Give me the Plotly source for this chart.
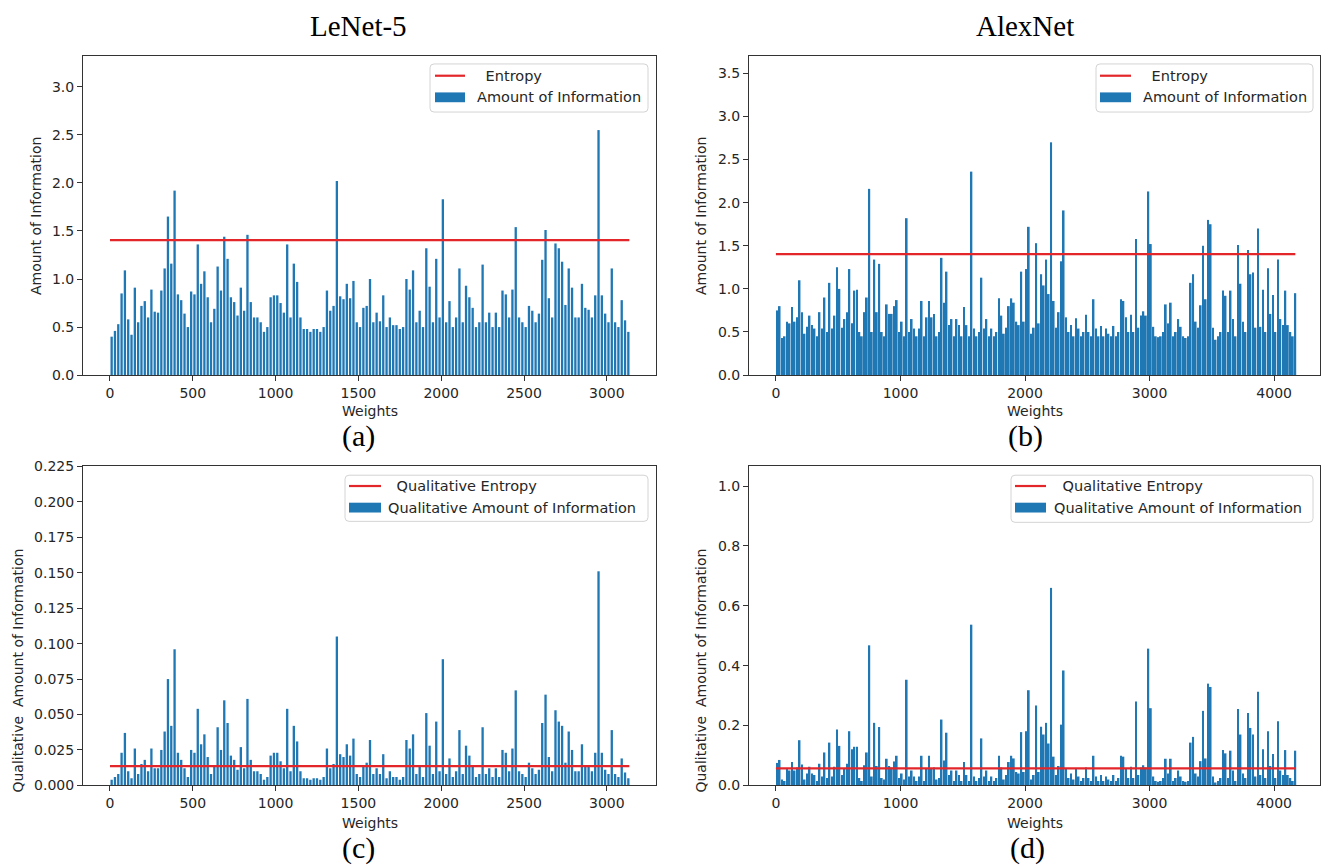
import plotly.graph_objects as go

W, H = 1325, 867

# ---------------- data (one bar per 20 weights) ----------------
BIN = 20
LENET_N = 3136
ALEX_N = 4170
LENET_ENTROPY = 1.404
ALEX_ENTROPY = 1.404
LENET_Q_ENTROPY = 0.0136
ALEX_Q_ENTROPY = 0.057

lenet_info = [
    0.40, 0.46, 0.53, 0.85, 1.09, 0.58, 0.42, 0.91, 0.55, 0.72,
    0.77, 0.60, 0.89, 0.66, 0.65, 0.88, 1.11, 1.65, 1.16, 1.92,
    0.84, 0.78, 0.64, 0.50, 0.87, 0.84, 1.36, 0.95, 1.08, 0.81,
    0.55, 0.69, 1.13, 0.88, 1.44, 1.21, 0.81, 0.76, 0.62, 0.91,
    0.67, 1.46, 0.76, 0.60, 0.60, 0.55, 0.45, 0.50, 0.81, 0.83,
    0.83, 0.75, 0.65, 1.36, 0.60, 1.16, 0.97, 0.60, 0.48, 0.48,
    0.45, 0.48, 0.48, 0.45, 0.50, 0.88, 0.67, 0.72, 2.02, 0.82,
    0.79, 0.95, 0.80, 0.98, 0.55, 0.50, 0.70, 0.72, 1.00, 0.55,
    0.65, 0.56, 0.83, 0.50, 0.60, 0.52, 0.52, 0.48, 0.50, 1.00,
    0.89, 1.09, 0.55, 0.67, 0.50, 1.32, 0.92, 0.55, 1.21, 0.60,
    1.83, 0.55, 0.77, 0.50, 0.60, 1.11, 0.55, 0.93, 0.81, 0.70,
    0.50, 0.55, 1.15, 0.55, 0.65, 0.50, 0.65, 0.50, 0.88, 0.84,
    0.60, 0.89, 1.54, 0.60, 0.55, 0.50, 0.72, 0.67, 0.55, 0.64,
    1.20, 1.51, 0.80, 0.60, 1.37, 1.32, 1.18, 0.73, 1.11, 0.91,
    0.60, 0.60, 0.95, 0.70, 0.68, 0.60, 0.83, 2.55, 0.83, 0.64,
    0.55, 1.11, 0.55, 0.50, 0.78, 0.57, 0.45,
]

lenet_qual = [
    0.004, 0.006, 0.008, 0.023, 0.037, 0.010, 0.005, 0.026, 0.008, 0.015,
    0.018, 0.010, 0.026, 0.012, 0.012, 0.025, 0.038, 0.075, 0.042, 0.096,
    0.023, 0.018, 0.012, 0.006, 0.025, 0.023, 0.054, 0.029, 0.036, 0.020,
    0.008, 0.014, 0.041, 0.025, 0.060, 0.044, 0.021, 0.018, 0.011, 0.027,
    0.012, 0.061, 0.018, 0.010, 0.010, 0.008, 0.004, 0.006, 0.021, 0.023,
    0.023, 0.017, 0.012, 0.054, 0.010, 0.042, 0.031, 0.010, 0.005, 0.005,
    0.004, 0.005, 0.005, 0.004, 0.006, 0.026, 0.012, 0.015, 0.105, 0.022,
    0.020, 0.029, 0.021, 0.033, 0.008, 0.006, 0.014, 0.016, 0.032, 0.008,
    0.012, 0.008, 0.022, 0.005, 0.010, 0.006, 0.006, 0.004, 0.006, 0.032,
    0.026, 0.036, 0.008, 0.013, 0.006, 0.051, 0.028, 0.008, 0.045, 0.010,
    0.089, 0.008, 0.019, 0.006, 0.010, 0.039, 0.008, 0.028, 0.021, 0.014,
    0.006, 0.008, 0.041, 0.008, 0.012, 0.006, 0.012, 0.006, 0.025, 0.023,
    0.010, 0.026, 0.067, 0.010, 0.008, 0.006, 0.016, 0.012, 0.008, 0.011,
    0.044, 0.064, 0.020, 0.010, 0.053, 0.045, 0.042, 0.016, 0.038, 0.025,
    0.010, 0.010, 0.029, 0.014, 0.013, 0.010, 0.023, 0.151, 0.023, 0.011,
    0.008, 0.039, 0.008, 0.006, 0.019, 0.009, 0.005,
]

alex_info = [
    0.75, 0.80, 0.43, 0.45, 0.62, 0.60, 0.79, 0.62, 0.67, 1.10,
    0.73, 0.48, 0.56, 0.69, 0.58, 0.54, 0.45, 0.73, 0.54, 0.90,
    0.50, 1.07, 0.54, 0.69, 1.25, 1.00, 0.55, 0.65, 0.73, 1.23,
    0.60, 0.98, 0.99, 0.50, 0.45, 0.73, 0.90, 2.16, 0.50, 1.34,
    0.73, 1.29, 0.50, 0.45, 0.82, 0.71, 0.71, 0.80, 0.87, 0.50,
    0.62, 0.45, 1.82, 0.50, 0.65, 0.54, 0.45, 0.54, 0.86, 0.45,
    0.67, 0.86, 0.67, 0.71, 0.45, 0.50, 1.36, 0.84, 1.20, 0.58,
    0.65, 0.45, 0.65, 0.58, 0.45, 0.79, 0.58, 0.45, 2.36, 0.54,
    0.45, 0.50, 1.13, 0.54, 0.65, 0.45, 0.54, 0.45, 0.50, 0.89,
    0.69, 0.48, 0.55, 0.80, 0.89, 0.84, 0.62, 0.58, 1.20, 0.62,
    1.23, 1.72, 0.48, 0.55, 1.53, 0.60, 1.17, 1.04, 1.34, 0.94,
    2.70, 0.86, 0.55, 0.73, 1.32, 1.91, 0.67, 0.50, 0.58, 0.45,
    0.66, 0.54, 0.45, 0.50, 0.70, 0.50, 0.45, 0.88, 0.54, 0.45,
    0.57, 0.45, 0.54, 0.48, 0.45, 0.57, 0.45, 0.50, 0.88, 0.86,
    0.67, 0.50, 0.70, 0.50, 1.58, 0.55, 0.69, 0.74, 0.69, 2.13,
    1.52, 0.56, 0.45, 0.44, 0.45, 0.50, 0.82, 0.60, 0.84, 0.45,
    0.50, 0.65, 0.56, 0.45, 0.43, 0.45, 1.07, 1.17, 0.62, 0.55,
    0.81, 1.50, 0.88, 1.80, 1.75, 0.55, 0.41, 0.45, 0.50, 0.98,
    0.92, 0.50, 0.98, 0.65, 0.45, 1.51, 1.06, 0.62, 0.50, 1.45,
    1.17, 1.19, 0.55, 1.70, 0.56, 0.99, 0.50, 1.24, 0.71, 0.93,
    0.50, 1.34, 0.65, 0.58, 0.98, 0.58, 0.50, 0.45, 0.95,
]

alex_qual = [
    0.075, 0.085, 0.020, 0.015, 0.055, 0.050, 0.078, 0.050, 0.060, 0.151,
    0.070, 0.020, 0.040, 0.062, 0.040, 0.035, 0.015, 0.072, 0.030, 0.110,
    0.025, 0.143, 0.030, 0.062, 0.187, 0.132, 0.035, 0.055, 0.072, 0.181,
    0.121, 0.129, 0.129, 0.025, 0.015, 0.067, 0.110, 0.468, 0.030, 0.209,
    0.065, 0.195, 0.025, 0.020, 0.089, 0.065, 0.060, 0.080, 0.099, 0.025,
    0.040, 0.020, 0.353, 0.030, 0.050, 0.030, 0.015, 0.030, 0.099, 0.015,
    0.055, 0.099, 0.055, 0.060, 0.020, 0.025, 0.220, 0.083, 0.176, 0.035,
    0.050, 0.015, 0.050, 0.035, 0.015, 0.078, 0.035, 0.015, 0.537, 0.030,
    0.015, 0.025, 0.157, 0.030, 0.050, 0.015, 0.030, 0.015, 0.025, 0.099,
    0.060, 0.020, 0.035, 0.078, 0.099, 0.090, 0.045, 0.040, 0.178, 0.045,
    0.181, 0.318, 0.020, 0.035, 0.267, 0.045, 0.196, 0.170, 0.209, 0.140,
    0.660, 0.096, 0.035, 0.065, 0.203, 0.384, 0.055, 0.025, 0.040, 0.020,
    0.055, 0.030, 0.015, 0.025, 0.060, 0.025, 0.015, 0.099, 0.030, 0.015,
    0.035, 0.015, 0.030, 0.020, 0.015, 0.035, 0.015, 0.025, 0.099, 0.096,
    0.055, 0.025, 0.062, 0.025, 0.280, 0.035, 0.060, 0.067, 0.060, 0.457,
    0.258, 0.030, 0.015, 0.012, 0.015, 0.025, 0.089, 0.040, 0.089, 0.015,
    0.025, 0.050, 0.030, 0.015, 0.012, 0.015, 0.143, 0.162, 0.040, 0.030,
    0.081, 0.249, 0.090, 0.340, 0.329, 0.030, 0.010, 0.015, 0.025, 0.118,
    0.107, 0.025, 0.116, 0.050, 0.015, 0.255, 0.170, 0.040, 0.025, 0.242,
    0.192, 0.170, 0.030, 0.313, 0.035, 0.121, 0.025, 0.181, 0.065, 0.105,
    0.025, 0.214, 0.050, 0.035, 0.118, 0.035, 0.025, 0.015, 0.116,
]

lenet_x = [BIN * i + BIN / 2 for i in range(len(lenet_info))]
alex_x = [BIN * i + BIN / 2 for i in range(len(alex_info))]

BLUE = "#1f77b4"
RED = "#e3262a"
TICK_FONT = dict(family="DejaVu Sans", size=14, color="#262626")
SERIF = "Liberation Serif"


def px(x):
    return x / W


def py(y):
    return 1 - y / H


fig = go.Figure()

panels = [
    ("", lenet_x, lenet_info, LENET_ENTROPY, LENET_N),
    ("2", alex_x, alex_info, ALEX_ENTROPY, ALEX_N),
    ("3", lenet_x, lenet_qual, LENET_Q_ENTROPY, LENET_N),
    ("4", alex_x, alex_qual, ALEX_Q_ENTROPY, ALEX_N),
]
names = [("Entropy", "Amount of Information"),
         ("Entropy", "Amount of Information"),
         ("Qualitative Entropy", "Qualitative Amount of Information"),
         ("Qualitative Entropy", "Qualitative Amount of Information")]

for (suf, xs, ys, ent, n), (ln, bn) in zip(panels, names):
    fig.add_trace(go.Bar(x=xs, y=ys, width=BIN * 0.7, marker_color=BLUE,
                         marker_line_width=0, name=bn, showlegend=False,
                         xaxis="x" + suf, yaxis="y" + suf))
    fig.add_trace(go.Scatter(x=[0, n], y=[ent, ent], mode="lines",
                             line=dict(color=RED, width=2.2), name=ln,
                             showlegend=False, xaxis="x" + suf, yaxis="y" + suf))

left_dom = [px(83), px(656)]
right_dom = [px(749), px(1320)]
top_dom = [py(374), py(49)]
bot_dom = [py(792), py(467)]

common = dict(showline=True, linecolor="#333", linewidth=1, mirror=True,
              ticks="outside", ticklen=5, tickcolor="#333", tickfont=TICK_FONT,
              showgrid=False, zeroline=False)

fig.update_layout(
    width=W, height=H, margin=dict(l=0, r=0, t=0, b=0),
    paper_bgcolor="white", plot_bgcolor="white", showlegend=False,
    xaxis=dict(domain=left_dom, anchor="y", range=[-163, 3297],
               tickvals=[0, 500, 1000, 1500, 2000, 2500, 3000], **common),
    yaxis=dict(domain=top_dom, anchor="x", range=[0, 3.32],
               tickvals=[0, 0.5, 1.0, 1.5, 2.0, 2.5, 3.0], tickformat=".1f", **common),
    xaxis2=dict(domain=right_dom, anchor="y2", range=[-216, 4368],
                tickvals=[0, 1000, 2000, 3000, 4000], **common),
    yaxis2=dict(domain=top_dom, anchor="x2", range=[0, 3.70],
                tickvals=[0, 0.5, 1.0, 1.5, 2.0, 2.5, 3.0, 3.5], tickformat=".1f", **common),
    xaxis3=dict(domain=left_dom, anchor="y3", range=[-163, 3297],
                tickvals=[0, 500, 1000, 1500, 2000, 2500, 3000], **common),
    yaxis3=dict(domain=bot_dom, anchor="x3", range=[0, 0.225],
                tickvals=[0, 0.025, 0.05, 0.075, 0.1, 0.125, 0.15, 0.175, 0.2, 0.225],
                tickformat=".3f", **common),
    xaxis4=dict(domain=right_dom, anchor="y4", range=[-216, 4368],
                tickvals=[0, 1000, 2000, 3000, 4000], **common),
    yaxis4=dict(domain=bot_dom, anchor="x4", range=[0, 1.066],
                tickvals=[0, 0.2, 0.4, 0.6, 0.8, 1.0], tickformat=".1f", **common),
)

ann = []


def text(x, y, s, size=14, family="DejaVu Sans", angle=0, xanchor="center", color="#262626"):
    ann.append(dict(x=px(x), y=py(y), xref="paper", yref="paper", text=s,
                    showarrow=False, xanchor=xanchor, yanchor="middle",
                    textangle=angle, font=dict(family=family, size=size, color=color)))


# titles and captions
text(358, 18, "LeNet-5", size=29, family=SERIF, color="black")
text(1025, 18, "AlexNet", size=29, family=SERIF, color="black")
text(358, 436, "(a)", size=30, family=SERIF, color="black")
text(1025, 436, "(b)", size=30, family=SERIF, color="black")
text(358, 856, "(c)", size=30, family=SERIF, color="black")
text(1027, 856, "(d)", size=30, family=SERIF, color="black")

# axis labels
text(370, 411, "Weights")
text(1035, 411, "Weights")
text(370, 830, "Weights")
text(1035, 830, "Weights")
text(36, 212, "Amount of Information", angle=-90)
text(701, 212, "Amount of Information", angle=-90)
text(18, 675, "Qualitative  Amount of Information", angle=-90)
text(701, 675, "Qualitative  Amount of Information", angle=-90)

shapes = []


def rounded_box(x0, y0, x1, y1, r=4):
    X0, X1 = px(x0), px(x1)
    Y0, Y1 = py(y0), py(y1)
    rx, ry = r / W, r / H
    path = (f"M {X0+rx},{Y0} L {X1-rx},{Y0} Q {X1},{Y0} {X1},{Y0-ry} "
            f"L {X1},{Y1+ry} Q {X1},{Y1} {X1-rx},{Y1} L {X0+rx},{Y1} "
            f"Q {X0},{Y1} {X0},{Y1+ry} L {X0},{Y0-ry} Q {X0},{Y0} {X0+rx},{Y0} Z")
    shapes.append(dict(type="path", path=path, xref="paper", yref="paper",
                       line=dict(color="#d4d4d4", width=1), fillcolor="rgba(255,255,255,0.85)"))


def legend(bx0, by0, bx1, by1, hx0, hx1, ly, py_, t1x, t2x, l1, l2):
    rounded_box(bx0, by0, bx1, by1)
    shapes.append(dict(type="line", xref="paper", yref="paper",
                       x0=px(hx0), x1=px(hx1), y0=py(ly), y1=py(ly),
                       line=dict(color=RED, width=2.2)))
    shapes.append(dict(type="rect", xref="paper", yref="paper",
                       x0=px(hx0), x1=px(hx1), y0=py(py_ + 5), y1=py(py_ - 5),
                       line=dict(width=0), fillcolor=BLUE))
    text(t1x, ly, l1, size=14.5, xanchor="left")
    text(t2x, py_, l2, size=14.5, xanchor="left")


legend(430, 57, 648, 106, 435, 465, 69, 91, 479, 475, " Entropy", "Amount of Information")
legend(1096, 57, 1313, 106, 1100, 1131, 69, 91, 1145, 1141, " Entropy", "Amount of Information")
legend(345, 476, 648, 523, 349, 381, 487, 509, 390, 386, " Qualitative Entropy",
       "Qualitative Amount of Information")
legend(1011, 476, 1313, 524, 1015, 1046, 487, 509, 1056, 1052, " Qualitative Entropy",
       "Qualitative Amount of Information")

fig.update_layout(annotations=ann, shapes=shapes)

fig.write_html("out.html", config={"displayModeBar": False},
               post_script="document.body.style.margin='0';document.body.style.overflow='hidden';")
